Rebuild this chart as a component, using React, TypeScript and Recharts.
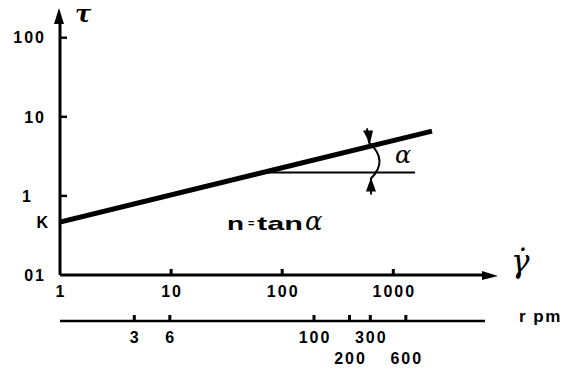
import React from 'react';
import { LineChart, Line, XAxis, YAxis, ReferenceDot, ReferenceLine, Customized } from 'recharts';

// ---- data (log-log flow curve) ----
const shearRate = [1, 2230];
const shearStress = [0.468, 6.6];
const K = 0.468;

const xTicks = [1, 10, 100, 1000];
const xTickLabels = ['1', '10', '100', '1000'];
const yTicks = [0.1, K, 1, 10, 100];
const yTickLabels = ['01', 'K', '1', '10', '100'];
const rpmTicks = [3, 6, 100, 200, 300, 600];
const rpmTickLabels = ['3', '6', '100', '200', '300', '600'];
const rpmLowerRow = [200, 600];

const xDomain = [1, 6690];
const yDomain = [0.1, 167.5];
const rpmDomain = [0.704, 2812];

const tangentFrom = 67;
const tangentTo = 1570;
const tangentStress = 1.98;
const angleMarkX = 684;
const alphaLabelX = 1036;
const alphaLabelY = 2.61;
const formulaX = 31.9;
const formulaY = 0.37;

const data = shearRate.map((x, i) => ({ x, y: shearStress[i] }));
const rpmData = rpmTicks.map((rpm) => ({ rpm, y: yDomain[0] }));

const FONT = '"Liberation Sans", Arial, sans-serif';
const SERIF = '"DejaVu Serif", "Liberation Serif", serif';

const YTick = (props: any) => {
  const { x, y, payload } = props;
  const v = payload.value;
  const i = yTicks.indexOf(v);
  const label = yTickLabels[i] ?? '';
  const showMark = v !== yDomain[0] && v !== K;
  const dx = label === '1' ? -27 : label === 'K' ? -10 : -14;
  return (
    <g>
      {showMark && <line x1={x} x2={x + 7} y1={y} y2={y} stroke="#000" strokeWidth={2.5} />}
      <text x={x + dx} y={y} dy="0.36em" textAnchor="end" fontFamily={FONT} fontWeight="bold" fontSize={16} letterSpacing={2} fill="#000">
        {label}
      </text>
    </g>
  );
};

const XTick = (props: any) => {
  const { x, y, payload } = props;
  const v = payload.value;
  const label = xTickLabels[xTicks.indexOf(v)] ?? '';
  const showMark = v !== xDomain[0];
  return (
    <g>
      {showMark && <line x1={x} x2={x} y1={y} y2={y - 6} stroke="#000" strokeWidth={3} />}
      <text x={x + 1} y={y + 22} textAnchor="middle" fontFamily={FONT} fontWeight="bold" fontSize={16} letterSpacing={2} fill="#000">
        {label}
      </text>
    </g>
  );
};

const RpmTick = (props: any) => {
  const { x, y, payload } = props;
  const v = payload.value;
  const label = rpmTickLabels[rpmTicks.indexOf(v)] ?? '';
  const lower = rpmLowerRow.includes(v);
  return (
    <g>
      <line x1={x} x2={x} y1={y} y2={y - 6} stroke="#000" strokeWidth={3} />
      <text x={x + 1} y={y + (lower ? 43 : 22)} textAnchor="middle" fontFamily={FONT} fontWeight="bold" fontSize={16} letterSpacing={2} fill="#000">
        {label}
      </text>
    </g>
  );
};

const UpArrow = (p: any) => (
  <path d={`M${p.cx - 1},${p.cy - 12} L${p.cx + 4},${p.cy + 4} L${p.cx - 6},${p.cy + 4} Z`} fill="#000" />
);
const RightArrow = (p: any) => (
  <path d={`M${p.cx + 13},${p.cy + 1} L${p.cx - 3},${p.cy - 4} L${p.cx - 3},${p.cy + 5} Z`} fill="#000" />
);
const AngleMark = (p: any) => {
  const { cx, cy } = p;
  return (
    <g>
      <path d={`M${cx - 8},${cy - 44} L${cx - 6},${cy - 30} Q${cx + 14},${cy - 12} ${cx - 4},${cy + 6} L${cx - 4},${cy + 22}`} fill="none" stroke="#000" strokeWidth={2} />
      <path d={`M${cx - 5},${cy - 29} L${cx - 12},${cy - 42} L${cx - 2},${cy - 42} Z`} fill="#000" />
      <path d={`M${cx - 4},${cy + 5} L${cx - 9},${cy + 19} L${cx + 1},${cy + 19} Z`} fill="#000" />
    </g>
  );
};
const AlphaLabel = (p: any) => (
  <text x={p.cx} y={p.cy} fontFamily={SERIF} fontStyle="italic" fontSize={24} fill="#000">α</text>
);
const FormulaLabel = (p: any) => (
  <g>
    <text x={p.cx} y={p.cy} textLength={17} lengthAdjust="spacingAndGlyphs" fontFamily={FONT} fontWeight="bold" fontSize={19} fill="#000">n</text>
    <text x={p.cx + 21} y={p.cy - 3} fontFamily={FONT} fontWeight="bold" fontSize={11} fill="#000">=</text>
    <text x={p.cx + 30} y={p.cy} textLength={46} lengthAdjust="spacingAndGlyphs" fontFamily={FONT} fontWeight="bold" fontSize={19} fill="#000">tan</text>
    <text x={p.cx + 78} y={p.cy} fontFamily={SERIF} fontStyle="italic" fontSize={26} fill="#000">α</text>
  </g>
);

const Annotations = () => (
  <g>
    <text x={75} y={22} fontFamily={SERIF} fontStyle="italic" fontWeight="bold" fontSize={24} fill="#000">τ</text>
    <text x={511} y={272} fontFamily={SERIF} fontStyle="italic" fontSize={31} fill="#000">γ̇</text>
    <text x={519} y={322} fontFamily={FONT} fontWeight="bold" fontSize={17} letterSpacing={1.5} fill="#000">r pm</text>
  </g>
);

export default function App() {
  return (
    <div style={{ position: 'absolute', left: 0, top: 0, width: 563, height: 371, background: '#fff' }}>
      <LineChart width={563} height={371} data={data} margin={{ top: 20, right: 78, bottom: 0, left: 0 }}>
        <XAxis
          xAxisId="main"
          dataKey="x"
          type="number"
          scale="log"
          domain={xDomain}
          ticks={xTicks}
          interval={0}
          allowDataOverflow
          height={46}
          tickSize={0}
          tickMargin={0}
          tickLine={false}
          axisLine={{ stroke: '#000', strokeWidth: 3 }}
          tick={<XTick />}
        />
        <XAxis
          xAxisId="rpm"
          dataKey="rpm"
          type="number"
          scale="log"
          domain={rpmDomain}
          ticks={rpmTicks}
          interval={0}
          allowDataOverflow
          height={50}
          tickSize={0}
          tickMargin={0}
          tickLine={false}
          axisLine={{ stroke: '#000', strokeWidth: 2.5 }}
          tick={<RpmTick />}
        />
        <YAxis
          type="number"
          scale="log"
          domain={yDomain}
          ticks={yTicks}
          interval={0}
          allowDataOverflow
          width={60}
          tickSize={0}
          tickMargin={0}
          tickLine={false}
          axisLine={{ stroke: '#000', strokeWidth: 3 }}
          tick={<YTick />}
        />
        <Line
          xAxisId="rpm"
          data={rpmData}
          dataKey="y"
          stroke="none"
          dot={false}
          activeDot={false}
          isAnimationActive={false}
        />
        <ReferenceLine
          xAxisId="main"
          segment={[{ x: tangentFrom, y: tangentStress }, { x: tangentTo, y: tangentStress }]}
          stroke="#000"
          strokeWidth={2}
          ifOverflow="visible"
        />
        <Line
          xAxisId="main"
          dataKey="y"
          type="linear"
          stroke="#000"
          strokeWidth={5}
          dot={false}
          activeDot={false}
          isAnimationActive={false}
        />
        <ReferenceDot xAxisId="main" x={angleMarkX} y={tangentStress} ifOverflow="visible" shape={AngleMark} />
        <ReferenceDot xAxisId="main" x={alphaLabelX} y={alphaLabelY} ifOverflow="visible" shape={AlphaLabel} />
        <ReferenceDot xAxisId="main" x={formulaX} y={formulaY} ifOverflow="visible" shape={FormulaLabel} />
        <ReferenceDot xAxisId="main" x={xDomain[0]} y={yDomain[1]} ifOverflow="visible" shape={UpArrow} />
        <ReferenceDot xAxisId="main" x={xDomain[1]} y={yDomain[0]} ifOverflow="visible" shape={RightArrow} />
        <Customized component={Annotations} />
      </LineChart>
    </div>
  );
}
